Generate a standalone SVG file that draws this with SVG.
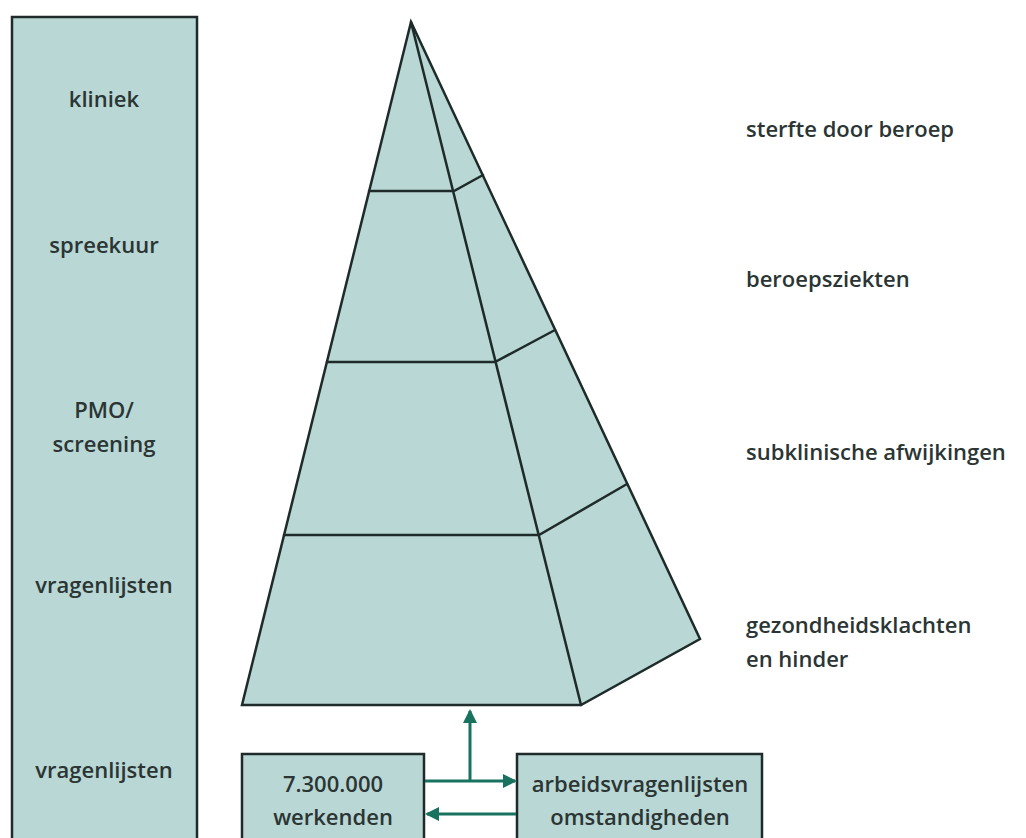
<svg xmlns="http://www.w3.org/2000/svg" width="1026" height="838" viewBox="0 0 1026 838">
<defs>
<style>
.box{fill:#b9d7d4;stroke:#1f2b2a;stroke-width:2.5;stroke-linejoin:miter}
.ln{fill:none;stroke:#1f2b2a;stroke-width:2.5;stroke-linecap:round}
.t{font-family:"Open Sans","Noto Sans",sans-serif;font-size:22px;font-weight:600;fill:#2b3534}
.c{text-anchor:middle}
.ar{fill:none;stroke:#17725f;stroke-width:3}
</style>
<marker id="ah" markerWidth="14" markerHeight="14" refX="12" refY="7" orient="auto" markerUnits="userSpaceOnUse">
<path d="M0,0 L14,7 L0,14 Z" fill="#17725f"/>
</marker>
</defs>
<rect width="1026" height="838" fill="#ffffff"/>
<g id="left-bar">
<rect class="box" x="12" y="17" width="185" height="840"/>
<text class="t c" x="104" y="107">kliniek</text>
<text class="t c" x="104" y="253">spreekuur</text>
<text class="t c" x="104" y="418">PMO/</text>
<text class="t c" x="104" y="452">screening</text>
<text class="t c" x="104" y="593">vragenlijsten</text>
<text class="t c" x="104" y="778">vragenlijsten</text>
</g>
<g id="pyramid">
<polygon class="box" points="411,22 242,705 581,705 700,639"/>
<path class="ln" d="M411,22 L581,705 M369,191 L454,191 L483,175 M327,362 L495,362 L555,330 M284,535 L539,535 L627,484"/>
</g>
<g id="labels">
<text class="t" x="746" y="137">sterfte door beroep</text>
<text class="t" x="746" y="287">beroepsziekten</text>
<text class="t" x="746" y="460">subklinische afwijkingen</text>
<text class="t" x="746" y="633">gezondheidsklachten</text>
<text class="t" x="746" y="667">en hinder</text>
</g>
<g id="werkenden">
<rect class="box" x="242" y="754" width="182" height="100"/>
<text class="t c" x="333" y="792">7.300.000</text>
<text class="t c" x="333" y="825">werkenden</text>
</g>
<g id="arbeid">
<rect class="box" x="517" y="754" width="245" height="100"/>
<text class="t c" x="640" y="792">arbeidsvragenlijsten</text>
<text class="t c" x="640" y="825">omstandigheden</text>
</g>
<g id="connectors">
<line class="ar" x1="425" y1="781" x2="515" y2="781" marker-end="url(#ah)"/>
<line class="ar" x1="470" y1="781" x2="470" y2="711" marker-end="url(#ah)"/>
<line class="ar" x1="516" y1="814" x2="427" y2="814" marker-end="url(#ah)"/>
</g>
</svg>
